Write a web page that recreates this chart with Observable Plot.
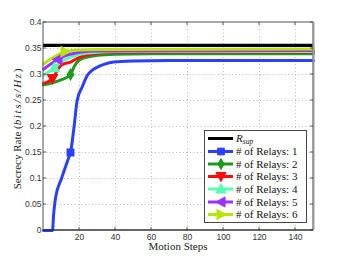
<!DOCTYPE html>
<html><head><meta charset="utf-8">
<script src="https://cdn.jsdelivr.net/npm/d3@7"></script>
<script src="https://cdn.jsdelivr.net/npm/@observablehq/plot@0.6"></script>
<style>body{margin:0;background:#fff}</style>
</head><body><div id="chart"></div>
<script>
// ---- data ----
const rSup = 0.356;
const xTicks = [20, 40, 60, 80, 100, 120, 140];
const yTicks = [0, 0.05, 0.1, 0.15, 0.2, 0.25, 0.3, 0.35, 0.4];

const relay1x = [0, 5, 5.6, 6.7, 10, 14, 15, 17, 18.7, 21.5, 24.3, 27, 29.8, 34, 39, 50, 70, 150];
const relay1y = [0, 0, 0.03, 0.063, 0.1, 0.14, 0.15, 0.2, 0.25, 0.276, 0.298, 0.308, 0.314, 0.32, 0.324, 0.326, 0.327, 0.327];
const relay2x = [0, 5, 10, 15, 17, 20, 25, 30, 40, 60, 150];
const relay2y = [0.28, 0.284, 0.29, 0.30, 0.315, 0.328, 0.334, 0.337, 0.339, 0.34, 0.34];
const relay3x = [0, 3, 5, 8, 10, 15, 20, 25, 30, 40, 150];
const relay3y = [0.283, 0.287, 0.292, 0.31, 0.318, 0.324, 0.333, 0.338, 0.341, 0.343, 0.343];
const relay4x = [0, 3, 6, 10, 15, 20, 30, 40, 150];
const relay4y = [0.298, 0.305, 0.313, 0.325, 0.333, 0.339, 0.343, 0.344, 0.344];
const relay5x = [0, 4, 8, 12, 16, 20, 30, 150];
const relay5y = [0.31, 0.32, 0.329, 0.336, 0.34, 0.343, 0.345, 0.346];
const relay6x = [0, 4, 8, 12, 16, 20, 30, 150];
const relay6y = [0.32, 0.33, 0.338, 0.344, 0.346, 0.347, 0.348, 0.349];

const markerX = [15, 15, 5, 6, 8, 12];
const markerY = [0.15, 0.30, 0.292, 0.313, 0.329, 0.344];
const labels = ["# of Relays: 1", "# of Relays: 2", "# of Relays: 3", "# of Relays: 4", "# of Relays: 5", "# of Relays: 6"];
const colors = ["#2b40ff", "#1f9a1f", "#ff0a0a", "#55ffb4", "#9a33ff", "#b6e600"];

// ---- symbols ----
function tri(dir) {
  return {draw(ctx, size) {
    const r = Math.sqrt(size) * 0.75;
    const pts = {
      up: [[0, -r], [r, r * 0.8], [-r, r * 0.8]],
      down: [[0, r], [r, -r * 0.8], [-r, -r * 0.8]],
      left: [[-r, 0], [r * 0.8, -r], [r * 0.8, r]],
      right: [[r, 0], [-r * 0.8, -r], [-r * 0.8, r]]
    }[dir];
    ctx.moveTo(pts[0][0], pts[0][1]);
    ctx.lineTo(pts[1][0], pts[1][1]);
    ctx.lineTo(pts[2][0], pts[2][1]);
    ctx.closePath();
  }};
}
const diamondSym = {draw(ctx, size) {
  const r = Math.sqrt(size) * 0.8;
  ctx.moveTo(0, -r); ctx.lineTo(r * 0.6, 0); ctx.lineTo(0, r); ctx.lineTo(-r * 0.6, 0); ctx.closePath();
}};
const squareSym = {draw(ctx, size) {
  const r = Math.sqrt(size) * 0.5;
  ctx.rect(-r, -r, 2 * r, 2 * r);
}};
const symbols = [squareSym, diamondSym, tri("down"), tri("up"), tri("left"), tri("right")];

const xs = [relay1x, relay2x, relay3x, relay4x, relay5x, relay6x];
const ys = [relay1y, relay2y, relay3y, relay4y, relay5y, relay6y];
const series = xs.map((xa, i) => xa.map((x, j) => ({x, y: ys[i][j]})));

const W = 344, H = 258;
const margin = {left: 43, right: 31, top: 22, bottom: 28};
const font = "Liberation Sans, Arial, sans-serif";
const gridStyle = {stroke: "#999", strokeOpacity: 0.8, strokeDasharray: "1,2.5", strokeWidth: 0.8};

const plot = Plot.plot({
  width: W, height: H,
  marginLeft: margin.left, marginRight: margin.right, marginTop: margin.top, marginBottom: margin.bottom,
  x: {domain: [0, 150], ticks: xTicks},
  y: {domain: [0, 0.4], ticks: yTicks},
  style: {fontFamily: font, background: "#fff", overflow: "visible"},
  marks: [
    Plot.gridX(xTicks, gridStyle),
    Plot.gridY(yTicks.filter(v => v > 0 && v < 0.4), gridStyle),
    Plot.ruleY([rSup], {stroke: "#000", strokeWidth: 3.2}),
    ...series.map((s, i) => Plot.line(s, {x: "x", y: "y", stroke: colors[i], strokeWidth: 3, curve: "monotone-x"})),
    ...series.map((s, i) => Plot.dot([{x: markerX[i], y: markerY[i]}], {x: "x", y: "y", fill: colors[i], stroke: colors[i], symbol: symbols[i], r: 3.6})),
    Plot.axisX(xTicks, {anchor: "bottom", tickSize: 0, tickPadding: 3, fontSize: 8.5, fill: "#333", label: null}),
    Plot.axisY(yTicks, {anchor: "left", tickSize: 0, tickPadding: 2, fontSize: 8.5, fill: "#333", label: null, tickFormat: d => String(d)})
  ]
});
document.getElementById("chart").appendChild(plot);

// ---- frame, inward ticks, labels, legend ----
const svg = d3.select(plot);
const x0 = margin.left, x1 = W - margin.right, y0 = margin.top, y1 = H - margin.bottom;
const sx = d3.scaleLinear([0, 150], [x0, x1]);
const sy = d3.scaleLinear([0, 0.4], [y1, y0]);
const g = svg.append("g");
g.append("rect").attr("x", x0).attr("y", y0).attr("width", x1 - x0).attr("height", y1 - y0)
  .attr("fill", "none").attr("stroke", "#555").attr("stroke-width", 1);
g.append("line").attr("x1", x1 + 0.5).attr("x2", x1 + 0.5).attr("y1", y0).attr("y2", y1).attr("stroke", "#999").attr("stroke-width", 2);
g.append("line").attr("x1", x0).attr("x2", x1).attr("y1", y1).attr("y2", y1).attr("stroke", "#222").attr("stroke-width", 1);
xTicks.forEach(t => {
  g.append("line").attr("x1", sx(t)).attr("x2", sx(t)).attr("y1", y1).attr("y2", y1 - 3).attr("stroke", "#333").attr("stroke-width", 0.8);
  g.append("line").attr("x1", sx(t)).attr("x2", sx(t)).attr("y1", y0).attr("y2", y0 + 3).attr("stroke", "#333").attr("stroke-width", 0.8);
});
yTicks.forEach(t => {
  g.append("line").attr("x1", x0).attr("x2", x0 + 3).attr("y1", sy(t)).attr("y2", sy(t)).attr("stroke", "#333").attr("stroke-width", 0.8);
  g.append("line").attr("x1", x1).attr("x2", x1 - 3).attr("y1", sy(t)).attr("y2", sy(t)).attr("stroke", "#333").attr("stroke-width", 0.8);
});

const serif = "Liberation Serif, Times New Roman, serif";
svg.append("text").attr("x", 178).attr("y", 250).attr("text-anchor", "middle")
  .attr("font-family", serif).attr("font-size", 11).attr("fill", "#222").text("Motion Steps");
const yl = svg.append("text").attr("transform", `translate(21,129) rotate(-90)`).attr("text-anchor", "middle")
  .attr("font-family", serif).attr("font-size", 11).attr("fill", "#222");
yl.append("tspan").text("Secrecy Rate (");
yl.append("tspan").attr("font-style", "italic").attr("letter-spacing", 1.6).text("bits/s/Hz");
yl.append("tspan").text(")");

// legend
const lg = svg.append("g").attr("text-anchor", "start");
lg.append("rect").attr("x", 204.5).attr("y", 130.5).attr("width", 102).attr("height", 92)
  .attr("fill", "#fff").attr("stroke", "#333").attr("stroke-width", 0.9);
const rowY = [138.5, 151.5, 164, 176.5, 189, 202, 214.5];
lg.append("line").attr("x1", 208).attr("x2", 233).attr("y1", rowY[0]).attr("y2", rowY[0]).attr("stroke", "#000").attr("stroke-width", 3);
const rt = lg.append("text").attr("x", 236).attr("y", rowY[0] + 3.5).attr("text-anchor", "start").attr("font-family", serif).attr("font-size", 11).attr("fill", "#111");
rt.append("tspan").attr("font-style", "italic").text("R");
rt.append("tspan").attr("font-style", "italic").attr("font-size", 7.5).attr("dy", 2).text("sup");
labels.forEach((lab, i) => {
  const yy = rowY[i + 1];
  lg.append("line").attr("x1", 208).attr("x2", 233).attr("y1", yy).attr("y2", yy).attr("stroke", colors[i]).attr("stroke-width", 3);
  const p = d3.path();
  symbols[i].draw(p, 3.8 * 3.8 * Math.PI);
  lg.append("path").attr("d", p.toString()).attr("transform", `translate(221,${yy})`).attr("fill", colors[i]).attr("stroke", colors[i]);
  lg.append("text").attr("x", 236).attr("y", yy + 3.5).attr("text-anchor", "start").attr("font-family", serif).attr("font-size", 11).attr("fill", "#111").text(lab);
});
</script>
</body></html>
